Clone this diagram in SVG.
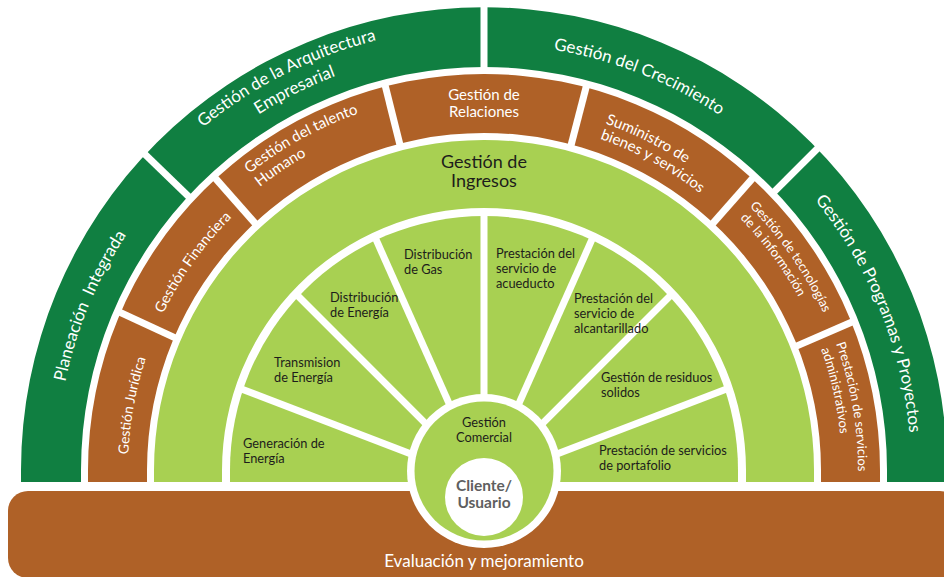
<svg xmlns="http://www.w3.org/2000/svg" width="944" height="577" viewBox="0 0 944 577">
<style>
text{font-family:Lato,"Liberation Sans","DejaVu Sans",sans-serif}
.w{fill:#fff}
.d{fill:#1d1d1b}
.g{fill:#107F41}
.b{fill:#AF6127}
.l{fill:#A8D052}
.f18{font-size:18px}
.f17{font-size:17px}
.f15{font-size:15px}
.f13{font-size:13px}
.fs{font-size:12.8px}
.gapLines line{stroke:#000;stroke-width:7}
</style>
<defs>
<path id="ringG" d="M21,482 L21,470 A463,463 0 0 1 947,470 L947,482 L887,482 L887,470 A403,403 0 0 0 81,470 L81,482 Z"/>
<path id="ringB" d="M88,482 L88,470 A396,396 0 0 1 880,470 L880,482 L821,482 L821,470 A337,337 0 0 0 147,470 L147,482 Z"/>
<path id="ringS" d="M230,482 L230,470 A254,254 0 0 1 738,470 L738,482 Z"/>
<mask id="gaps" maskUnits="userSpaceOnUse" x="-50" y="-50" width="1050" height="700">
<rect x="-50" y="-50" width="1050" height="700" fill="#fff"/>
<g class="gapLines">
<line x1="189.9" y1="197.7" x2="138.2" y2="147.7"/>
<line x1="484" y1="69" x2="484" y2="-3"/>
<line x1="773.6" y1="192.4" x2="824.5" y2="141.5"/>
<line x1="176.8" y1="338.7" x2="117.9" y2="311.3"/>
<line x1="256.7" y1="225.1" x2="213.7" y2="176.4"/>
<line x1="400.4" y1="146.7" x2="384.7" y2="83.6"/>
<line x1="570.5" y1="147.4" x2="586.8" y2="84.5"/>
<line x1="711.3" y1="225.1" x2="754.3" y2="176.4"/>
<line x1="794.7" y1="346.9" x2="854.3" y2="321"/>
<line x1="428" y1="460.5" x2="240.1" y2="388.4"/>
<line x1="441.6" y1="439.6" x2="296.3" y2="294.3"/>
<line x1="459.6" y1="427.2" x2="375" y2="237.2"/>
<line x1="484" y1="422" x2="484" y2="213"/>
<line x1="508.4" y1="427.2" x2="593" y2="237.2"/>
<line x1="526.4" y1="439.6" x2="671.7" y2="294.3"/>
<line x1="540" y1="460.5" x2="727.9" y2="388.4"/>
</g>
</mask>
<clipPath id="cPlan"><polygon points="484,482 -216,482 -19.5,-4.3"/></clipPath>
<clipPath id="cArq"><polygon points="484,482 -19.5,-4.3 484,-218"/></clipPath>
<clipPath id="cCrec"><polygon points="484,482 484,-218 979,-13"/></clipPath>
<clipPath id="cProg"><polygon points="484,482 979,-13 1184,482"/></clipPath>
<clipPath id="cJur"><polygon points="484,482 -216,482 -150.4,186.2"/></clipPath>
<clipPath id="cFin"><polygon points="484,482 -150.4,186.2 20.2,-42.3"/></clipPath>
<clipPath id="cTal"><polygon points="484,482 20.2,-42.3 314.7,-197.2"/></clipPath>
<clipPath id="cRel"><polygon points="484,482 314.7,-197.2 659.3,-195.7"/></clipPath>
<clipPath id="cSum"><polygon points="484,482 659.3,-195.7 947.8,-42.3"/></clipPath>
<clipPath id="cTec"><polygon points="484,482 947.8,-42.3 1126,202.9"/></clipPath>
<clipPath id="cAdm"><polygon points="484,482 1126,202.9 1184,482"/></clipPath>
<clipPath id="cGen"><polygon points="484,482 84,482 110.6,338.6"/></clipPath>
<clipPath id="cTra"><polygon points="484,482 110.6,338.6 201.2,199.2"/></clipPath>
<clipPath id="cDE"><polygon points="484,482 201.2,199.2 321.3,116.6"/></clipPath>
<clipPath id="cGas"><polygon points="484,482 321.3,116.6 484,82"/></clipPath>
<clipPath id="cAcu"><polygon points="484,482 484,82 646.7,116.6"/></clipPath>
<clipPath id="cAlc"><polygon points="484,482 646.7,116.6 766.8,199.2"/></clipPath>
<clipPath id="cRes"><polygon points="484,482 766.8,199.2 857.4,338.6"/></clipPath>
<clipPath id="cPor"><polygon points="484,482 857.4,338.6 884,482"/></clipPath>
<path id="tPlan" d="M59.6,525.1 A428,428 0 0 1 224,130"/>
<path id="tArq1" d="M113.7,226.8 A443,443 0 0 1 509.5,27.7"/>
<path id="tArq2" d="M132.9,237.6 A421,421 0 0 1 509.7,49.8"/>
<path id="tCrec" d="M421,48.7 A426,426 0 0 1 817.4,204.8"/>
<path id="tProg" d="M734.4,124.1 A427,427 0 0 1 904.6,543.4"/>
<path id="tJur" d="M133,529.4 A356,356 0 0 1 176.9,289.9"/>
<path id="tFin" d="M140,374.6 A357,357 0 0 1 281.8,175.8"/>
<path id="tTal1" d="M249.2,173.8 A378,378 0 0 1 673,142.6"/>
<path id="tTal2" d="M259.8,187.1 A361,361 0 0 1 664.5,157.4"/>
<path id="tSum1" d="M605.3,123.6 A367,367 0 0 1 845.4,406.3"/>
<path id="tSum2" d="M600,138.7 A351,351 0 0 1 829.7,409"/>
<path id="tTec1" d="M749.4,206.5 A374,374 0 0 1 852.3,534.9"/>
<path id="tTec2" d="M740.1,218.4 A359,359 0 0 1 837.5,532.3"/>
<path id="tAdm1" d="M836.1,343.9 A374,374 0 0 1 835.4,597.9"/>
<path id="tAdm2" d="M821,349.3 A358,358 0 0 1 820.4,592.4"/>
</defs>

<g id="evaluacion">
<rect x="8" y="491" width="952" height="87" rx="20" class="b"/>
<text x="484" y="567" text-anchor="middle" class="w f17">Evaluación y mejoramiento</text>
</g>

<g id="planeacion"><use href="#ringG" class="g" clip-path="url(#cPlan)" mask="url(#gaps)"/>
<text class="w f17" xml:space="preserve"><textPath href="#tPlan" startOffset="50%" text-anchor="middle">Planeación  Integrada</textPath></text></g>
<g id="arquitectura"><use href="#ringG" class="g" clip-path="url(#cArq)" mask="url(#gaps)"/>
<text class="w f17"><textPath href="#tArq1" startOffset="50%" text-anchor="middle">Gestión de la Arquitectura</textPath></text>
<text class="w f17"><textPath href="#tArq2" startOffset="50%" text-anchor="middle">Empresarial</textPath></text></g>
<g id="crecimiento"><use href="#ringG" class="g" clip-path="url(#cCrec)" mask="url(#gaps)"/>
<text class="w f17"><textPath href="#tCrec" startOffset="50%" text-anchor="middle">Gestión del Crecimiento</textPath></text></g>
<g id="programas"><use href="#ringG" class="g" clip-path="url(#cProg)" mask="url(#gaps)"/>
<text class="w f17"><textPath href="#tProg" startOffset="50%" text-anchor="middle">Gestión de Programas y Proyectos</textPath></text></g>

<g id="juridica"><use href="#ringB" class="b" clip-path="url(#cJur)" mask="url(#gaps)"/>
<text class="w" style="font-size:14px"><textPath href="#tJur" startOffset="50%" text-anchor="middle">Gestión Jurídica</textPath></text></g>
<g id="financiera"><use href="#ringB" class="b" clip-path="url(#cFin)" mask="url(#gaps)"/>
<text class="w" style="font-size:14.5px"><textPath href="#tFin" startOffset="50%" text-anchor="middle">Gestión Financiera</textPath></text></g>
<g id="talento"><use href="#ringB" class="b" clip-path="url(#cTal)" mask="url(#gaps)"/>
<text class="w f15"><textPath href="#tTal1">Gestión del talento</textPath></text>
<text class="w f15"><textPath href="#tTal2">Humano</textPath></text></g>
<g id="relaciones"><use href="#ringB" class="b" clip-path="url(#cRel)" mask="url(#gaps)"/>
<text x="484" y="100" text-anchor="middle" class="w f15">Gestión de</text>
<text x="484" y="117" text-anchor="middle" class="w f15">Relaciones</text></g>
<g id="suministro"><use href="#ringB" class="b" clip-path="url(#cSum)" mask="url(#gaps)"/>
<text class="w f15"><textPath href="#tSum1">Suministro de</textPath></text>
<text class="w f15"><textPath href="#tSum2">bienes y servicios</textPath></text></g>
<g id="tecnologias"><use href="#ringB" class="b" clip-path="url(#cTec)" mask="url(#gaps)"/>
<text class="w f13"><textPath href="#tTec1">Gestión de tecnologías</textPath></text>
<text class="w f13"><textPath href="#tTec2">de la información</textPath></text></g>
<g id="administrativos"><use href="#ringB" class="b" clip-path="url(#cAdm)" mask="url(#gaps)"/>
<text class="w f13"><textPath href="#tAdm1">Prestación de servicios</textPath></text>
<text class="w f13"><textPath href="#tAdm2">administrativos</textPath></text></g>

<g id="ingresos">
<path d="M154,482 L154,470 A330,330 0 0 1 814,470 L814,482 L746,482 L746,470 A262,262 0 0 0 222,470 L222,482 Z" class="l"/>
<text x="484" y="168" text-anchor="middle" class="d f18">Gestión de</text>
<text x="484" y="187" text-anchor="middle" class="d f18">Ingresos</text>
</g>

<g id="generacion"><use href="#ringS" class="l" clip-path="url(#cGen)" mask="url(#gaps)"/>
<text x="243" y="448" class="d fs">Generación de</text><text x="243" y="463" class="d fs">Energía</text></g>
<g id="transmision"><use href="#ringS" class="l" clip-path="url(#cTra)" mask="url(#gaps)"/>
<text x="274" y="367" class="d fs">Transmision</text><text x="274" y="382" class="d fs">de Energía</text></g>
<g id="distribucion-energia"><use href="#ringS" class="l" clip-path="url(#cDE)" mask="url(#gaps)"/>
<text x="330" y="302" class="d fs">Distribución</text><text x="330" y="317" class="d fs">de Energía</text></g>
<g id="distribucion-gas"><use href="#ringS" class="l" clip-path="url(#cGas)" mask="url(#gaps)"/>
<text x="404" y="259" class="d fs">Distribución</text><text x="404" y="274" class="d fs">de Gas</text></g>
<g id="acueducto"><use href="#ringS" class="l" clip-path="url(#cAcu)" mask="url(#gaps)"/>
<text x="496" y="258" class="d fs">Prestación del</text><text x="496" y="273" class="d fs">servicio de</text><text x="496" y="288" class="d fs">acueducto</text></g>
<g id="residuos"><use href="#ringS" class="l" clip-path="url(#cRes)" mask="url(#gaps)"/>
<text x="601" y="382" class="d fs">Gestión de residuos</text><text x="601" y="397" class="d fs">solidos</text></g>
<g id="portafolio"><use href="#ringS" class="l" clip-path="url(#cPor)" mask="url(#gaps)"/>
<text x="599" y="455" class="d fs">Prestación de servicios</text><text x="599" y="470" class="d fs">de portafolio</text></g>
<g id="alcantarillado"><use href="#ringS" class="l" clip-path="url(#cAlc)" mask="url(#gaps)"/>
<text x="574" y="303" class="d fs">Prestación del</text><text x="574" y="318" class="d fs">servicio de</text><text x="574" y="333" class="d fs">alcantarillado</text></g>

<g id="comercial">
<circle cx="484" cy="471" r="77" fill="#fff"/>
<circle cx="484" cy="471" r="69.5" class="l"/>
<text x="484" y="427" text-anchor="middle" class="d fs">Gestión</text>
<text x="484" y="442" text-anchor="middle" class="d fs">Comercial</text>
</g>
<g id="cliente">
<circle cx="484" cy="497" r="39" fill="#fff"/>
<text x="484" y="491" text-anchor="middle" style="font-size:15.5px;font-weight:bold;fill:#5f5f5f">Cliente/</text>
<text x="484" y="508" text-anchor="middle" style="font-size:15.5px;font-weight:bold;fill:#5f5f5f">Usuario</text>
</g>
</svg>
